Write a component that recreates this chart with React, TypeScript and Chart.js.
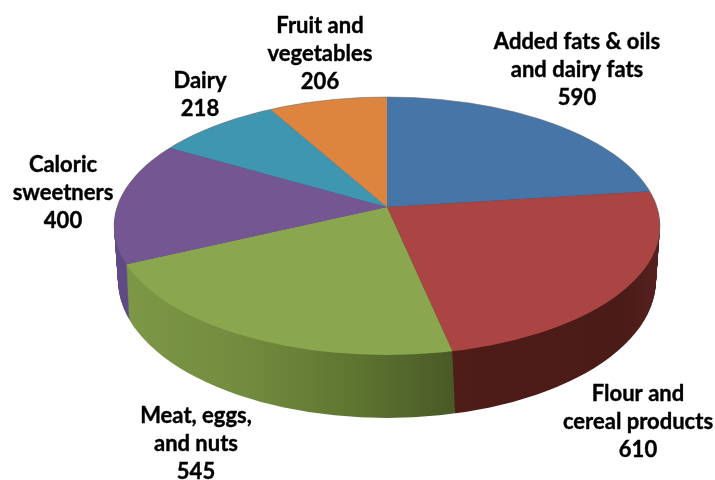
import React, { useEffect, useRef } from "react";
import { Chart, registerables } from "chart.js";

Chart.register(...registerables);

const categories = [
  "Added fats & oils and dairy fats",
  "Flour and cereal products",
  "Meat, eggs, and nuts",
  "Caloric sweetners",
  "Dairy",
  "Fruit and vegetables",
];
const values = [590, 610, 545, 400, 218, 206];
const labelLines = [
  ["Added fats & oils", "and dairy fats"],
  ["Flour and", "cereal products"],
  ["Meat, eggs,", "and nuts"],
  ["Caloric", "sweetners"],
  ["Dairy"],
  ["Fruit and", "vegetables"],
];
const faceColors = ["#4675a8", "#aa4543", "#8aa64f", "#745692", "#3f96b0", "#dd853e"];

// layout of the drawing, separate from the data
const CX = 387;
const APEX_Y = 207;
const TOP = { cy: 226, rx: 273, ry: 129 };
const BOTTOM = { cy: 280, rx: 269, ry: 138 };
const RAY_X = 273;
const RAY_Y = 126;
const OVER = 1.35;
const labelPos = [
  { x: 577, y: 42 },
  { x: 638, y: 394 },
  { x: 196, y: 416 },
  { x: 63, y: 165 },
  { x: 200, y: 81 },
  { x: 320, y: 26 },
];
const LINE_H = 28;
const WALL_STOPS: [number, string][][] = [
  [[0, "#2c4d74"], [1, "#2c4d74"]],
  [[452, "#4f1c18"], [620, "#4a1b17"], [660, "#552120"]],
  [[125, "#7c9846"], [250, "#728a3e"], [350, "#5f7631"], [452, "#4a5a27"]],
  [[114, "#5f4a85"], [135, "#5f4a85"]],
  [[0, "#2a6577"], [1, "#2a6577"]],
  [[0, "#93592a"], [1, "#93592a"]],
];

const pie3d = {
  id: "pie3d",
  beforeDatasetsDraw(chart: any) {
    const ctx: CanvasRenderingContext2D = chart.ctx;
    const arcs = chart.getDatasetMeta(0).data as any[];
    const R = arcs[0].outerRadius;
    const chartX = arcs[0].x;
    const baseOpts = arcs.map((a) => a.options);

    const sxBase = (RAY_X * OVER) / R;
    const syBase = (RAY_Y * OVER) / R;

    const drawLayer = (t: number, dy: number, useWall: boolean) => {
      const rx = TOP.rx + (BOTTOM.rx - TOP.rx) * t;
      const ry = TOP.ry + (BOTTOM.ry - TOP.ry) * t;
      const cy = TOP.cy + (BOTTOM.cy - TOP.cy) * t;
      const k = rx / TOP.rx;
      ctx.save();
      ctx.beginPath();
      ctx.ellipse(CX, cy, rx, ry, 0, 0, Math.PI * 2);
      ctx.clip();
      ctx.translate(CX, APEX_Y + dy);
      ctx.scale(sxBase * k, syBase);
      ctx.translate(-arcs[0].x, -arcs[0].y);
      arcs.forEach((arc, i) => {
        let color: any = baseOpts[i].backgroundColor;
        if (useWall) {
          const stops = WALL_STOPS[i];
          const x0 = chartX + (stops[0][0] - CX) / (sxBase * k);
          const x1 = chartX + (stops[stops.length - 1][0] - CX) / (sxBase * k);
          const g = ctx.createLinearGradient(x0, 0, x1, 0);
          const span = stops[stops.length - 1][0] - stops[0][0];
          stops.forEach(([p, c]) => g.addColorStop((p - stops[0][0]) / span, c));
          color = g;
        }
        arc.options = { ...baseOpts[i], backgroundColor: color };
        arc.draw(ctx);
        arc.options = baseOpts[i];
      });
      ctx.restore();
    };

    const depth = BOTTOM.cy - TOP.cy;
    for (let d = depth; d >= 1; d--) drawLayer(d / depth, d, true);
    drawLayer(0, 0, false);

    // soft rim around the upper face
    ctx.save();
    ctx.beginPath();
    ctx.ellipse(CX, TOP.cy, TOP.rx, TOP.ry, 0, Math.PI * 0.97, Math.PI * 2.03);
    ctx.strokeStyle = "rgba(110,110,110,0.55)";
    ctx.lineWidth = 1;
    ctx.stroke();
    ctx.restore();

    // data labels
    ctx.save();
    ctx.fillStyle = "#000000";
    ctx.strokeStyle = "#000000";
    ctx.lineWidth = 0.4;
    ctx.font = "bold 22px Lato";
    ctx.textAlign = "center";
    ctx.textBaseline = "middle";
    labelLines.forEach((lines, i) => {
      const rows = [...lines, String(values[i])];
      rows.forEach((row, r) => {
        ctx.fillText(row, labelPos[i].x, labelPos[i].y + r * LINE_H);
        ctx.strokeText(row, labelPos[i].x, labelPos[i].y + r * LINE_H);
      });
    });
    ctx.restore();
    return false;
  },
};

export default function App() {
  const ref = useRef<HTMLCanvasElement>(null);
  useEffect(() => {
    const chart = new Chart(ref.current!, {
      type: "pie",
      data: {
        labels: categories,
        datasets: [{ data: values, backgroundColor: faceColors, borderWidth: 0 }],
      },
      options: {
        responsive: false,
        animation: false,
        plugins: { legend: { display: false }, tooltip: { enabled: false } },
      },
      plugins: [pie3d],
    } as any);
    return () => chart.destroy();
  }, []);
  return (
    <canvas
      ref={ref}
      width={715}
      height={480}
      style={{ position: "absolute", left: 0, top: 0, display: "block" }}
    />
  );
}
